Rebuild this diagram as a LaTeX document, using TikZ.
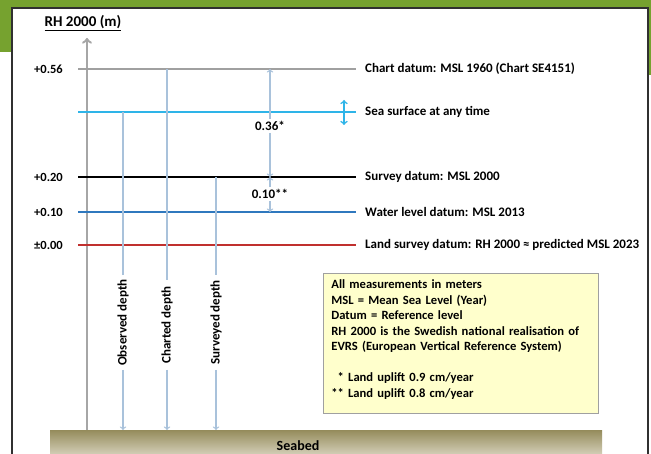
\documentclass[tikz,border=0pt]{standalone}
\usepackage{fontspec}
\setmainfont{Carlito}
\usepackage{tikz}
\usetikzlibrary{ arrows, calc, positioning }
\definecolor{bannerGreen}{HTML}{76A22F}
\definecolor{frameDark}{HTML}{303030}
\definecolor{axisGray}{HTML}{A6A6A6}
\definecolor{chartGray}{HTML}{A0A0A0}
\definecolor{seaBlue}{HTML}{2EB4E8}
\definecolor{waterBlue}{HTML}{2F78BE}
\definecolor{landRed}{HTML}{C0302E}
\definecolor{depthBlue}{HTML}{A9C2DB}
\definecolor{keyYellow}{HTML}{FFFFCC}
\definecolor{bedTop}{HTML}{958C5C}
\definecolor{bedBottom}{HTML}{ECE9DC}
\tikzset{
>=to, % open arrow heads
every node/.style={font=\bfseries\fontsize{13}{15}\selectfont},
datum/.style={anchor=west, inner sep=0pt}, % label at the right end of a level
tick/.style={anchor=east, inner sep=0pt, font=\bfseries\fontsize{12.5}{14}\selectfont},
level/.style={line width=1.8pt},
depth/.style={draw=depthBlue, line width=1.3pt},
cut/.style={fill=white, inner sep=2pt}, % label that breaks a line
key/.style={draw=chartGray, fill=keyYellow, line width=0.8pt, anchor=north west,
  text width=259pt, align=left, inner xsep=8pt, inner ysep=6.5pt,
  font=\bfseries\fontsize{12.6}{15.5}\selectfont},
}
\begin{document}
\begin{tikzpicture}[x=1pt, y=-1pt]
  \useasboundingbox (0,0) rectangle (651,454);
  % banner and frame
  \fill[bannerGreen] (0,0) rectangle (651,52);
  \fill[bannerGreen] (640,0) rectangle (651,75);
  \draw[frameDark, line width=1.6pt, fill=white] (12,8) rectangle (648,480);

  % seabed
  \node[shade, top color=bedTop, bottom color=bedBottom, inner sep=0pt,
    minimum width=552pt, minimum height=34pt, anchor=north west] (bed) at (50,430) {};
  \node[font=\bfseries\fontsize{14}{16}\selectfont] (seabed) at (298,446) {Seabed};

  % vertical axis
  \node[font=\bfseries\fontsize{15}{17}\selectfont] (title) at (83,23) {\underline{RH 2000 (m)}};
  \coordinate (axbot) at (87,430);
  \coordinate (axtop) at (87,38);
  \draw[->, axisGray, line width=2.4pt] (axbot) -- (axtop);

  % levels
  \coordinate (c56) at (78,69);
  \coordinate (csea) at (78,112);
  \coordinate (c20) at (78,177);
  \coordinate (c10) at (78,212);
  \coordinate (c00) at (78,245);
  \node[tick] (t56) at (63,69) {+0.56};
  \node[tick] (t20) at (63,177) {+0.20};
  \node[tick] (t10) at (63,212) {+0.10};
  \node[tick] (t00) at (63,245) {±0.00};
  \node[datum] (chart) at (365,69) {Chart datum: MSL 1960 (Chart SE4151)};
  \node[datum] (sea) at (365,112) {Sea surface at any time};
  \node[datum] (survey) at (365,177) {Survey datum: MSL 2000};
  \node[datum] (water) at (365,212) {Water level datum: MSL 2013};
  \node[datum] (land) at (365,245) {Land survey datum: RH 2000 ≈ predicted MSL 2023};
  \draw[level, chartGray] (c56) -- ([xshift=-9pt]chart.west);
  \draw[level, seaBlue] (csea) -- ([xshift=-9pt]sea.west);
  \draw[level, black] (c20) -- ([xshift=-9pt]survey.west);
  \draw[level, waterBlue] (c10) -- ([xshift=-9pt]water.west);
  \draw[level, landRed] (c00) -- ([xshift=-9pt]land.west);

  % sea surface moves
  \coordinate (seaup) at (344,100);
  \coordinate (seadn) at (344,125);
  \draw[<->, seaBlue, line width=1.6pt] (seaup) -- (seadn);

  % differences between datums
  \node[cut] (m36) at (270,126) {0.36*};
  \draw[->, depth] (m36) -- (m36 |- c56);
  \draw[->, depth] (m36) -- (m36 |- c20);
  \node[cut] (m10) at (270,194) {0.10**};
  \draw[->, depth] (m10) -- (m10 |- c20);
  \draw[->, depth] (m10) -- (m10 |- c10);

  % depths
  \node[cut, rotate=90, anchor=west, inner xsep=4pt] (obs) at (123,370) {Observed depth};
  \node[cut, rotate=90, anchor=west, inner xsep=6pt] (charted) at (167,370) {Charted depth};
  \node[cut, rotate=90, anchor=west, inner xsep=5pt] (surveyed) at (216,370) {Surveyed depth};
  \draw[depth] (obs) -- (obs |- csea);
  \draw[depth, ->] (obs) -- (obs |- bed.north);
  \draw[depth] (charted) -- (charted |- c56);
  \draw[depth, ->] (charted) -- (charted |- bed.north);
  \draw[depth] (surveyed) -- (surveyed |- c20);
  \draw[depth, ->] (surveyed) -- (surveyed |- bed.north);

  % legend
  \node[key] (legend) at (323,273) {All measurements in meters\\
    MSL = Mean Sea Level (Year)\\
    Datum = Reference level\\
    RH 2000 is the Swedish national realisation of\\
    EVRS (European Vertical Reference System)\\[15.5pt]
    \hspace*{0.5em}* Land uplift 0.9 cm/year\\
    {**} Land uplift 0.8 cm/year\\[-6pt]
    \mbox{}};
\end{tikzpicture}
\end{document}
